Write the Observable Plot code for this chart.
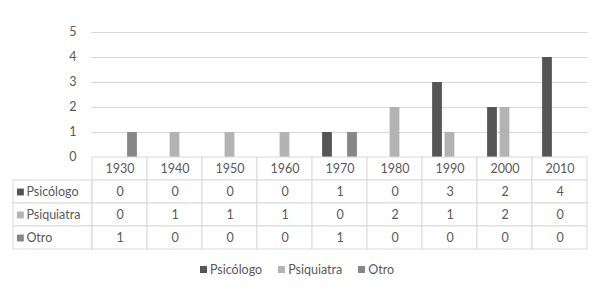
<!DOCTYPE html>
<html>
<head>
<meta charset="utf-8">
<script src="https://cdn.jsdelivr.net/npm/d3@7"></script>
<script src="https://cdn.jsdelivr.net/npm/@observablehq/plot@0.6"></script>
<style>
  html, body { margin: 0; padding: 0; background: #fff; }
  #wrap { position: relative; width: 600px; height: 294px; font-family: Lato, "Open Sans", sans-serif; }
  #wrap > .p { position: absolute; left: 0; }
  #legend { position: absolute; left: 0; width: 594px; top: 262px; display: flex; justify-content: center; gap: 16px; font-size: 12.5px; color: #595959; font-family: Lato, sans-serif; }
  #legend span.item { display: flex; align-items: center; gap: 3px; }
  #legend i { display: inline-block; width: 7px; height: 7px; }
</style>
</head>
<body>
<div id="wrap"></div>
<script>
const decades = ["1930","1940","1950","1960","1970","1980","1990","2000","2010"];
const series = ["Psicólogo","Psiquiatra","Otro"];
const psicologo = [0,0,0,0,1,0,3,2,4];
const psiquiatra = [0,1,1,1,0,2,1,2,0];
const otro = [1,0,0,0,1,0,0,0,0];
const yTicks = [0,1,2,3,4,5];
const colors = ["#555555","#b3b3b3","#878787"];

const values = [psicologo, psiquiatra, otro];
const rows = series.flatMap((s, si) => decades.map((d, di) => ({decade: d, series: s, si, value: values[si][di]})));

const W = 600, ML = 91, MR = 12;
const bw = (W - ML - MR) / decades.length;
const textColor = "#595959";
const lineColor = "#d9d9d9";
const font = "Lato, sans-serif";

const wrap = document.getElementById("wrap");

// Bar chart
const chart = Plot.plot({
  width: W, height: 158,
  marginLeft: ML, marginRight: MR, marginTop: 32, marginBottom: 1,
  style: {fontFamily: font, fontSize: "12.5px", color: textColor, background: "transparent", overflow: "visible"},
  x: {domain: decades, padding: 0, axis: null},
  y: {domain: [0, 5]},
  color: {domain: series, range: colors},
  marks: [
    Plot.ruleY(yTicks.filter(d => d > 0), {stroke: lineColor, strokeWidth: 1}),
    Plot.axisY(yTicks, {tickSize: 0, tickPadding: 15, label: null, fontSize: 12.5, dy: -1}),
    ...series.map((s, si) => Plot.barY(rows.filter(r => r.si === si), {
      x: "decade", y: "value", fill: "series",
      dx: (si - 1) * 12.5,
      insetLeft: (bw - 10) / 2, insetRight: (bw - 10) / 2
    }))
  ]
});
chart.classList.add("p");
chart.style.top = "0px";
wrap.appendChild(chart);

// Data table
const rowKeys = ["header", ...series];
const headerCells = decades.map(d => ({decade: d, row: "header"}));
const labelCells = series.map((s, si) => ({decade: decades[0], row: s, si}));
const tableCells = [...headerCells, ...rows.map(r => ({decade: r.decade, row: r.series, value: r.value}))];
const labelCx = ML + bw / 2;

const table = Plot.plot({
  width: W, height: 94,
  marginLeft: ML, marginRight: MR, marginTop: 0.5, marginBottom: 1.5,
  style: {fontFamily: font, fontSize: "12.5px", color: textColor, background: "transparent", overflow: "visible"},
  x: {domain: decades, padding: 0, axis: null},
  y: {domain: rowKeys, padding: 0, axis: null},
  marks: [
    Plot.cell(tableCells, {x: "decade", y: "row", fill: "white", stroke: lineColor}),
    Plot.cell(labelCells, {x: "decade", y: "row", fill: "white", stroke: lineColor, insetLeft: -(ML - 12), insetRight: bw}),
    Plot.text(headerCells, {x: "decade", y: "row", text: "decade", fill: textColor, fontSize: 12.5}),
    Plot.text(rows, {x: "decade", y: "series", text: "value", fill: textColor, fontSize: 12.5}),
    Plot.dot(labelCells, {x: "decade", y: "row", symbol: "square", r: 3.9, fill: (d) => colors[d.si], stroke: null, dx: 19 - labelCx}),
    Plot.text(labelCells, {x: "decade", y: "row", text: "row", textAnchor: "start", fill: textColor, fontSize: 12.5, dx: 25 - labelCx})
  ]
});
table.classList.add("p");
table.style.top = "156px";
wrap.appendChild(table);

// Legend
const legend = document.createElement("div");
legend.id = "legend";
series.forEach((s, i) => {
  const item = document.createElement("span");
  item.className = "item";
  const sw = document.createElement("i");
  sw.style.background = colors[i];
  item.appendChild(sw);
  item.appendChild(document.createTextNode(s));
  legend.appendChild(item);
});
wrap.appendChild(legend);
</script>
</body>
</html>
